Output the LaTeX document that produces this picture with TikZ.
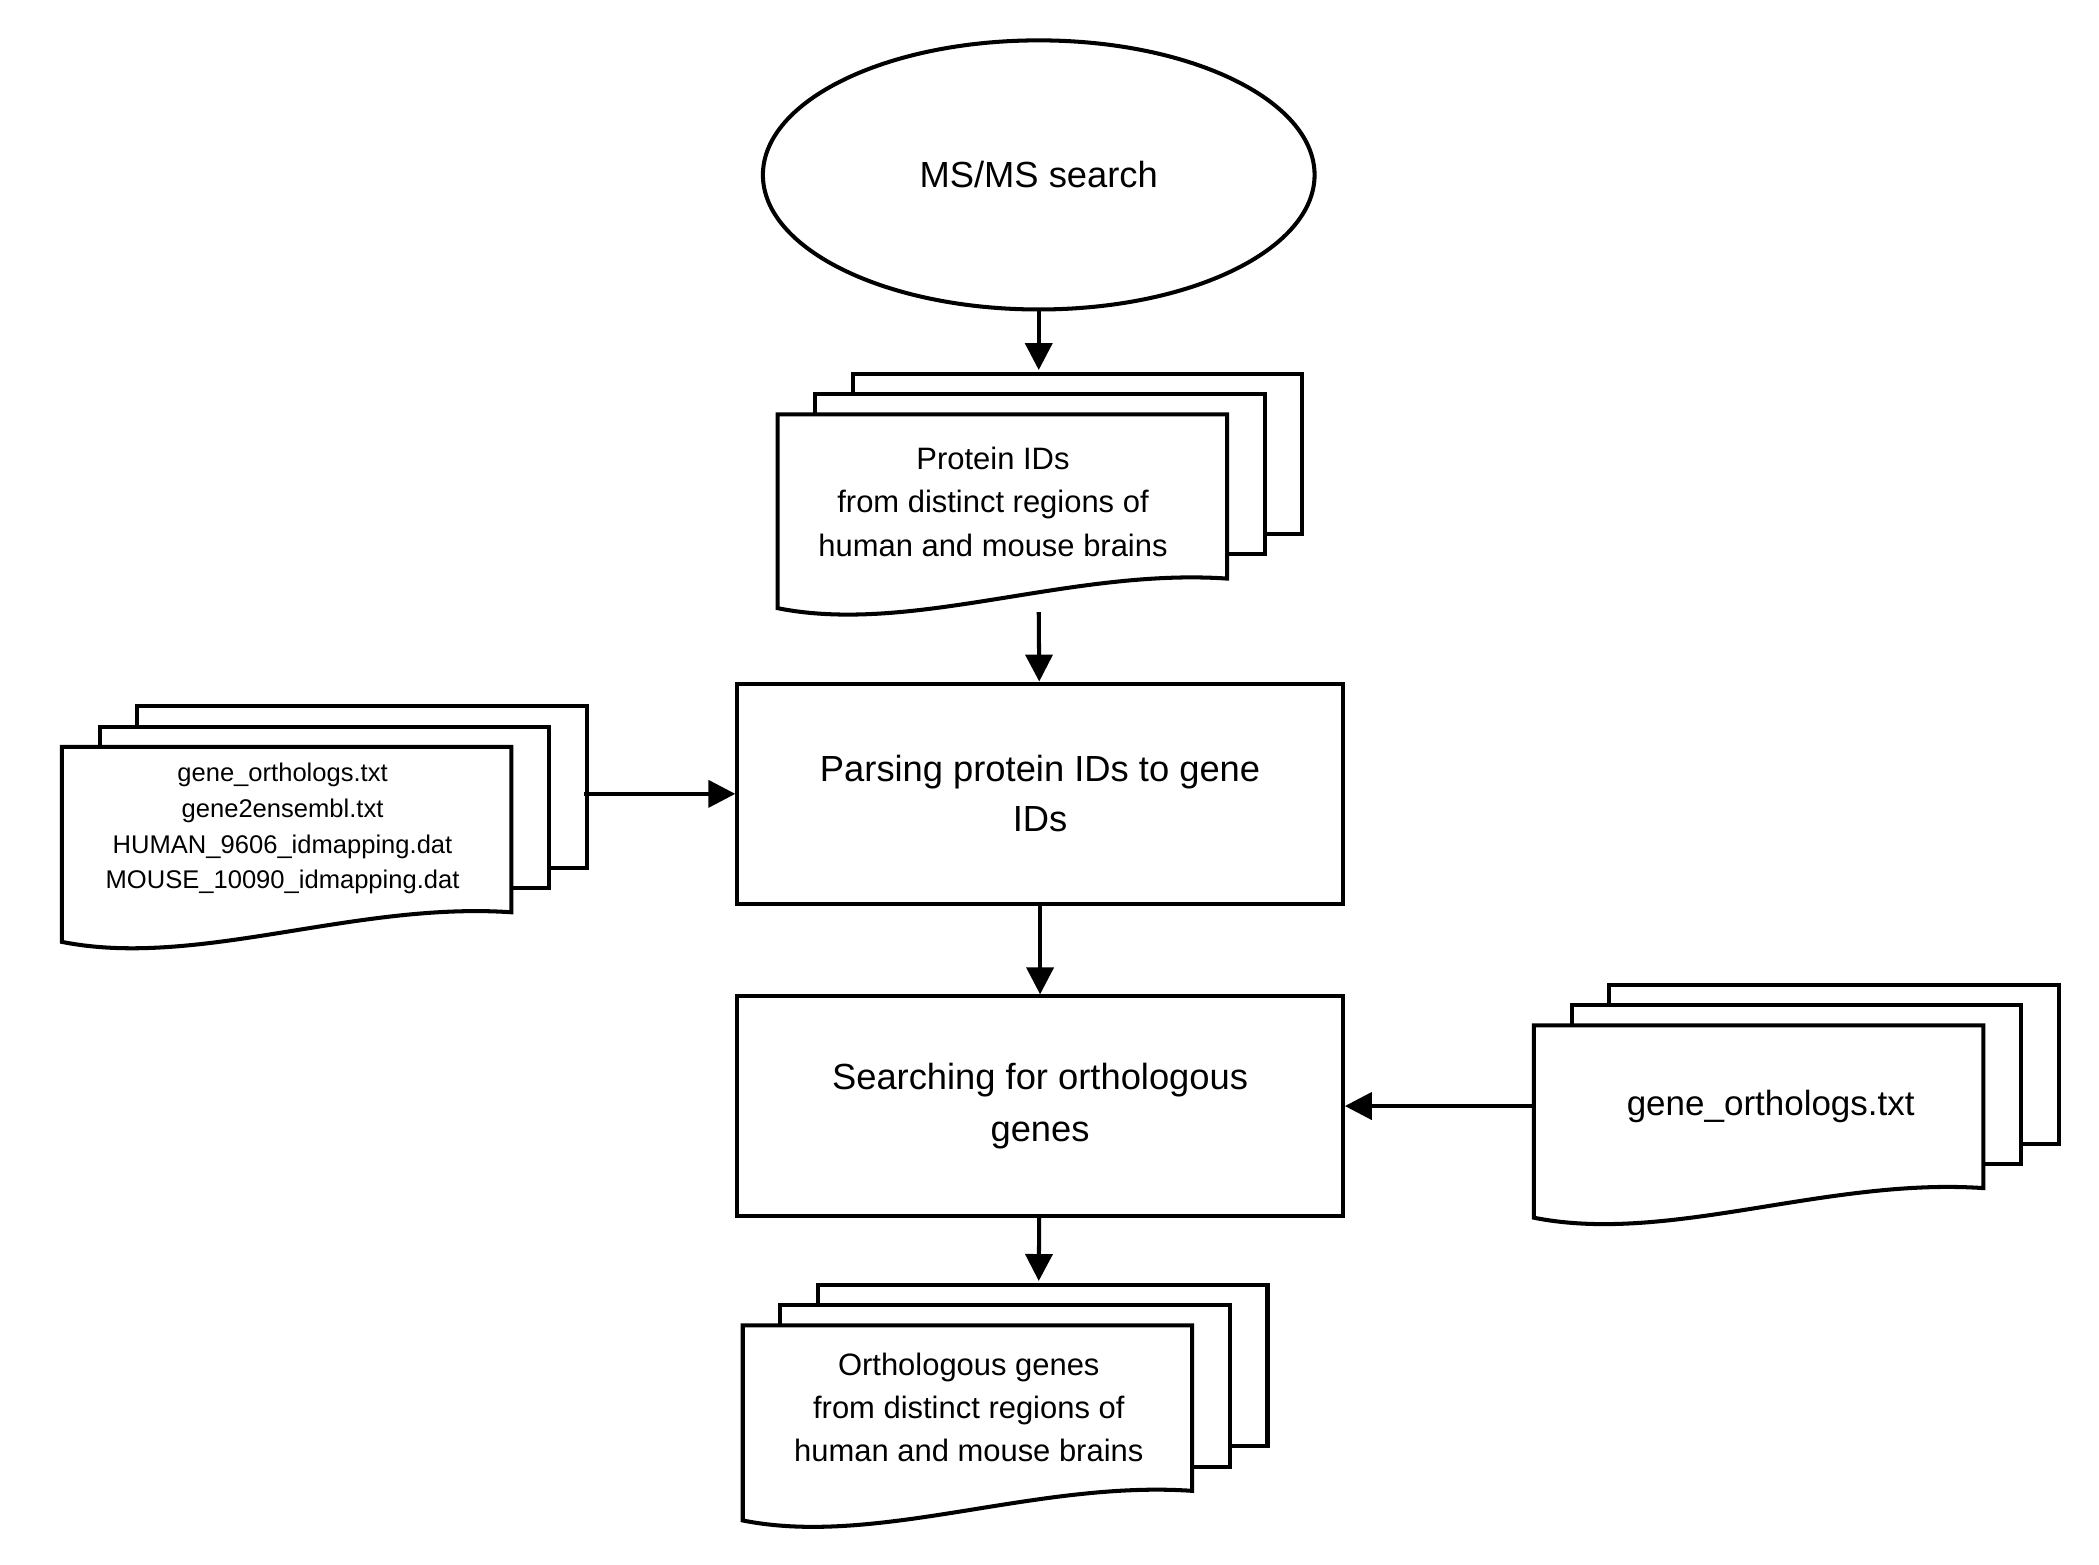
\documentclass[tikz,border=0pt]{standalone}
\usepackage{fontspec}
\setmainfont{Liberation Sans}
\usetikzlibrary{arrows.meta,shapes.geometric}
\tikzset{
  ln/.style={line width=3pt,line join=miter},
  arr/.style={ln,-{Triangle[length=20pt,width=20pt]}},
  box/.style={ln,draw,rectangle},
}
% doc shape: x0 y0 x1 y1 (y1 = bottom-left y)
\newcommand\mydoc[4]{%
  \filldraw[ln,fill=white] (#1,#4) -- (#1,#2) -- (#3,#2) -- (#3,#4-22)
   .. controls (#3-0.35*#3+0.35*#1,#4-30) and (#1+0.3*#3-0.3*#1,#4+20) .. (#1,#4) -- cycle;}
\newcommand\mystack[4]{%
  \filldraw[ln,fill=white] (#1+56,#2-30) rectangle (#3+56,#4-55);
  \filldraw[ln,fill=white] (#1+28,#2-15) rectangle (#3+28,#4-40);
  \mydoc{#1}{#2}{#3}{#4}}
\begin{document}
\begin{tikzpicture}[x=1pt,y=-1pt]
\useasboundingbox (0,0) rectangle (1560,1163);
\node[ln,draw,ellipse,minimum width=410pt,minimum height=200pt,font=\fontsize{27}{32}\selectfont] (ms) at (772,130) {MS/MS search};
\mystack{578}{308}{912}{452}
\node[align=center,font=\fontsize{23}{32}\selectfont] (prot) at (738,373) {Protein IDs\\from distinct regions of\\human and mouse brains};
\coordinate (protT) at (772,275);
\coordinate (protB) at (772,455);
\node[box,minimum width=450pt,minimum height=164pt,align=center,font=\fontsize{27}{37}\selectfont] (parse) at (773,590) {Parsing protein IDs to gene\\IDs};
\mystack{46}{555}{380}{700}
\node[align=center,font=\fontsize{19}{26.5}\selectfont] (files) at (210,616) {gene\_orthologs.txt\\gene2ensembl.txt\\HUMAN\_9606\_idmapping.dat\\MOUSE\_10090\_idmapping.dat};
\coordinate (filesR) at (434,590);
\node[box,minimum width=450pt,minimum height=163pt,align=center,font=\fontsize{27}{39}\selectfont] (search) at (773,822) {Searching for orthologous\\genes};
\mystack{1140}{762}{1474}{905}
\node[font=\fontsize{26}{32}\selectfont] (go) at (1316,822) {gene\_orthologs.txt};
\coordinate (goL) at (1140,822);
\mystack{552}{985}{886}{1130}
\node[align=center,font=\fontsize{23}{32}\selectfont] (orth) at (720,1046) {Orthologous genes\\from distinct regions of\\human and mouse brains};
\coordinate (orthT) at (772,952);
\draw[arr] (ms) -- (protT);
\draw[arr] (protB) -- (parse);
\draw[arr] (filesR) -- (parse);
\draw[arr] (parse) -- (search);
\draw[arr] (goL) -- (search);
\draw[arr] (search) -- (orthT);
\end{tikzpicture}
\end{document}
